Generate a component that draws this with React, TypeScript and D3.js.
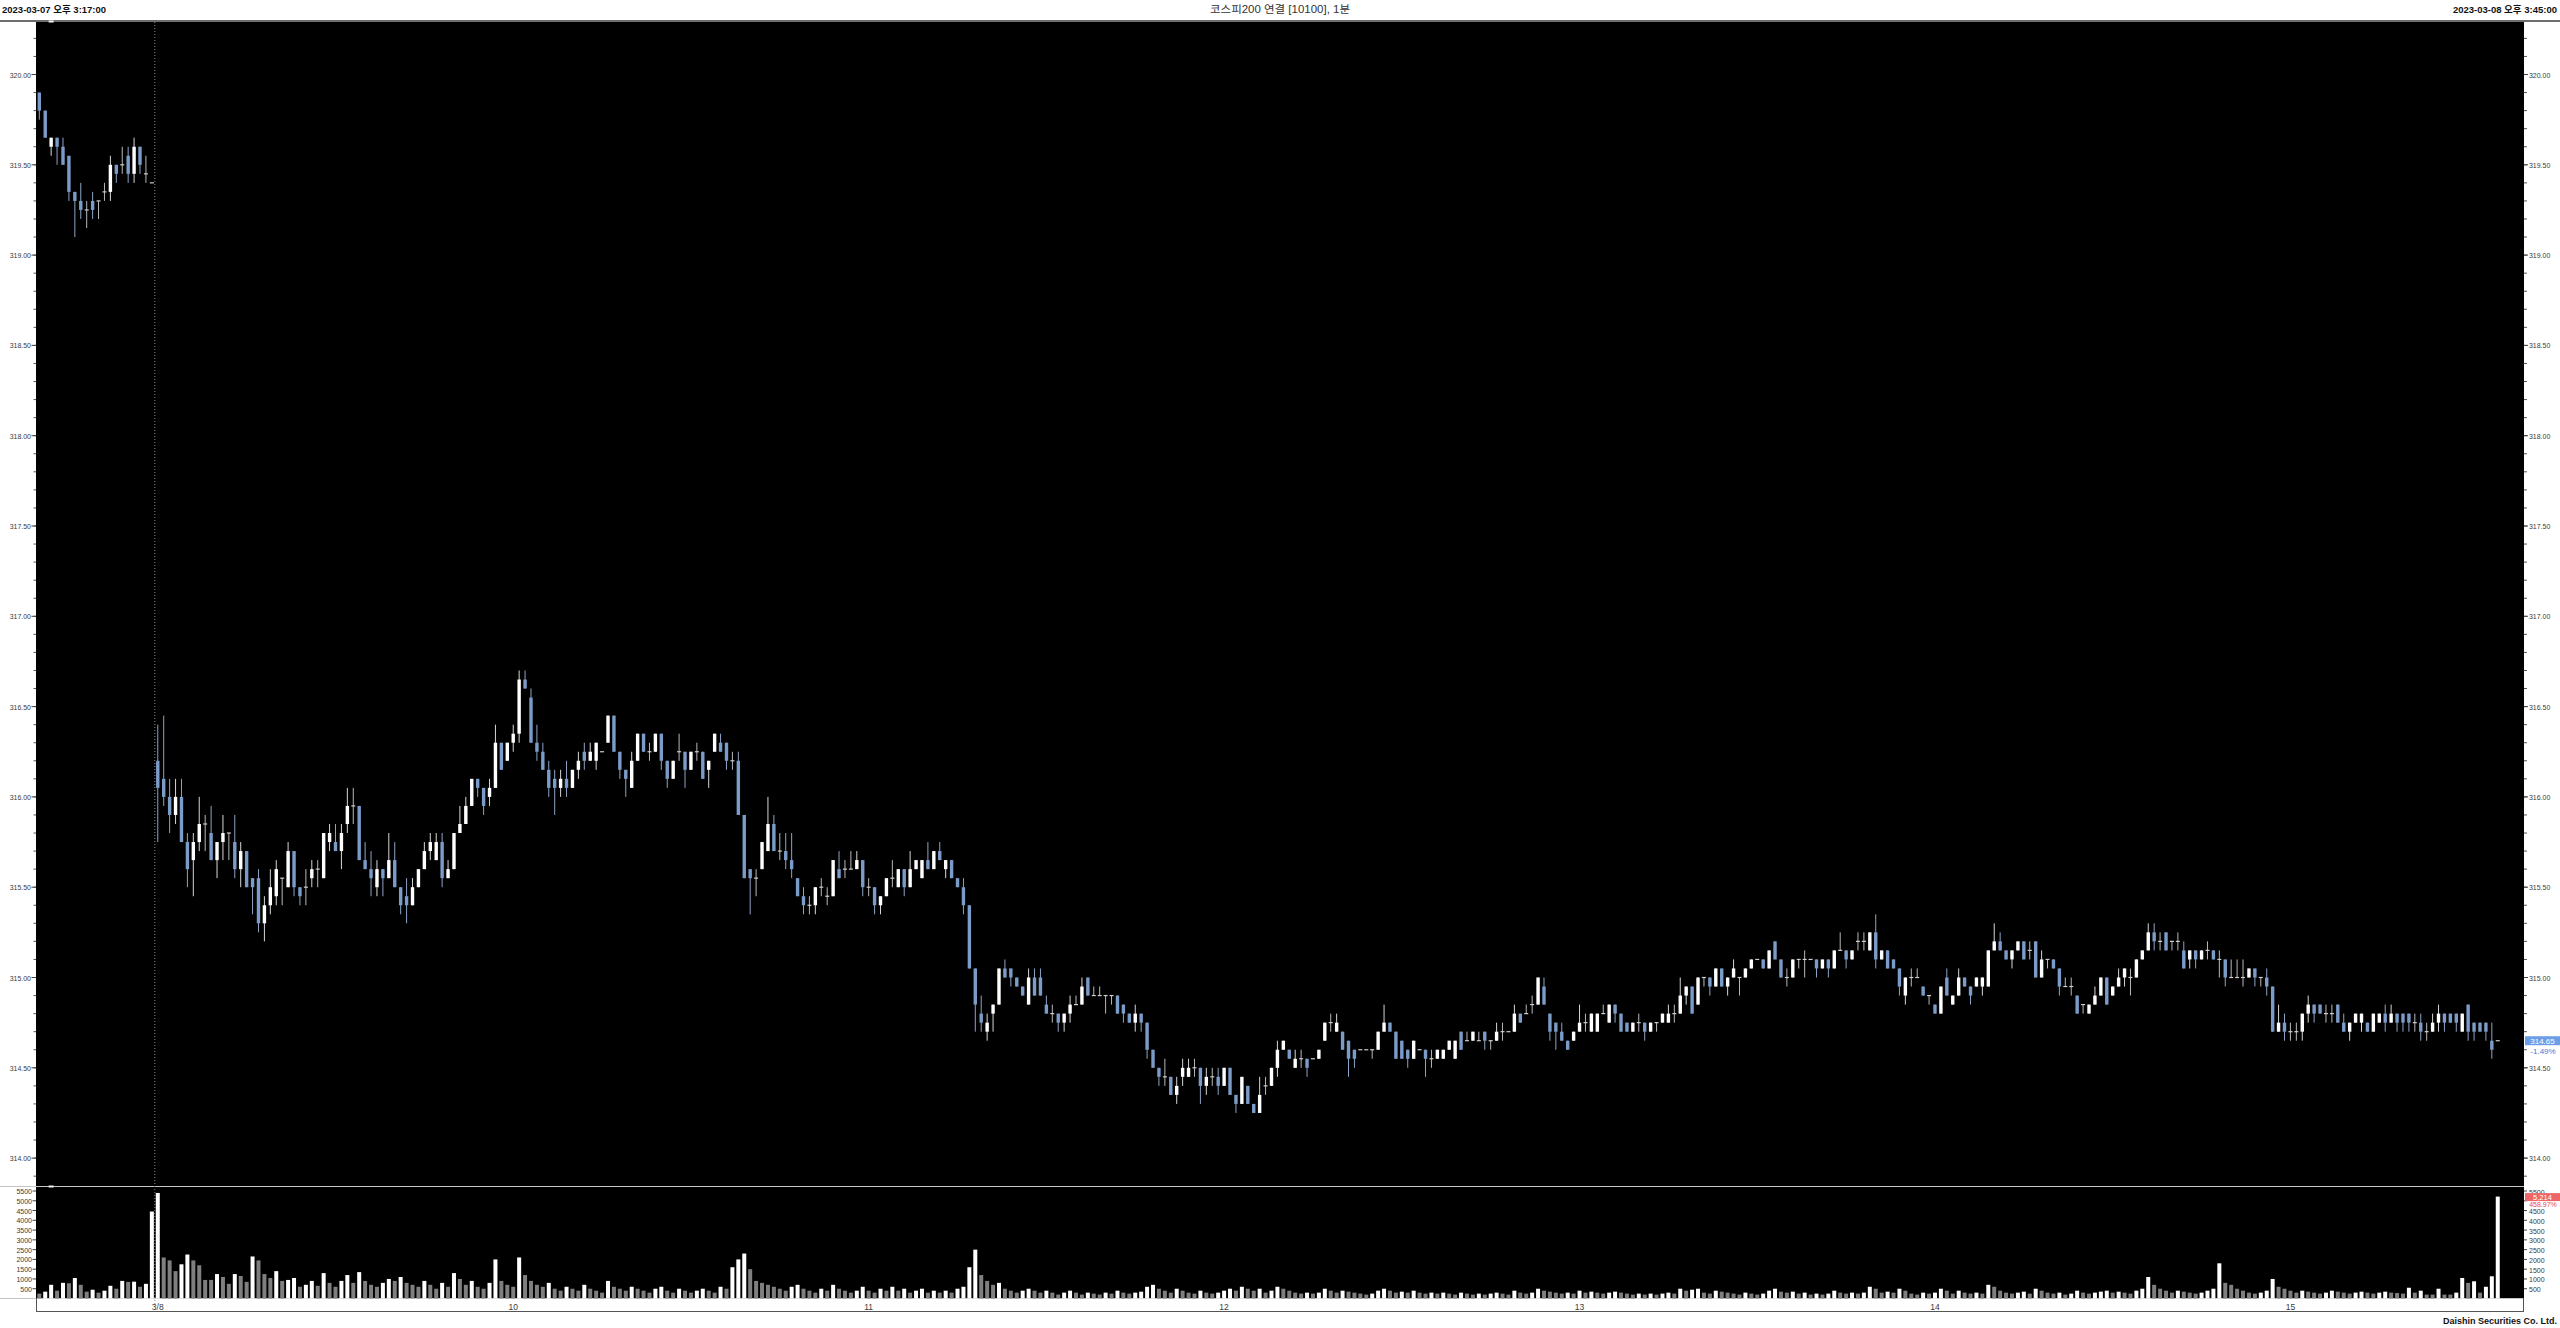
import React from "react";
import * as d3 from "d3";

// ---- candle data: 3/7 15:17–15:35 + 15:45 close (20), 3/8 09:00–15:34 + 15:45 close (396)
const opens = [
  319.90,319.80,319.60,319.65,319.60,319.55,319.35,319.30,319.25,319.30,
  319.30,319.35,319.35,319.50,319.50,319.55,319.45,319.60,319.45,319.40,
  316.20,316.10,316.00,315.90,316.00,315.75,315.65,315.75,315.85,315.80,
  315.65,315.75,315.80,315.75,315.60,315.70,315.55,315.55,315.30,315.40,
  315.45,315.55,315.50,315.70,315.50,315.50,315.55,315.60,315.55,315.75,
  315.75,315.70,315.85,315.95,315.95,315.65,315.60,315.50,315.60,315.55,
  315.65,315.50,315.45,315.40,315.50,315.60,315.70,315.65,315.75,315.55,
  315.60,315.80,315.85,315.95,316.10,316.05,316.00,316.05,316.30,316.20,
  316.30,316.35,316.65,316.55,316.30,316.25,316.15,316.10,316.05,316.10,
  316.05,316.15,316.25,316.20,316.20,316.25,316.30,316.45,316.25,316.15,
  316.05,316.20,316.35,316.25,316.25,316.35,316.20,316.10,316.25,316.25,
  316.15,316.25,316.25,316.15,316.25,316.30,316.30,316.20,316.20,315.90,
  315.60,315.55,315.60,315.70,315.85,315.70,315.70,315.65,315.55,315.45,
  315.40,315.40,315.50,315.45,315.45,315.60,315.60,315.60,315.60,315.65,
  315.50,315.50,315.40,315.45,315.55,315.50,315.60,315.50,315.60,315.55,
  315.65,315.60,315.70,315.60,315.65,315.55,315.50,315.40,315.05,314.80,
  314.70,314.80,314.85,315.05,315.05,315.00,314.95,314.85,315.00,315.00,
  314.85,314.80,314.80,314.75,314.80,314.85,314.85,315.00,314.90,314.90,
  314.90,314.90,314.90,314.85,314.80,314.75,314.80,314.75,314.60,314.50,
  314.45,314.45,314.35,314.45,314.45,314.50,314.50,314.40,314.45,314.45,
  314.40,314.50,314.35,314.30,314.40,314.30,314.25,314.40,314.40,314.50,
  314.60,314.60,314.50,314.55,314.55,314.55,314.55,314.65,314.75,314.70,
  314.70,314.65,314.60,314.60,314.60,314.60,314.60,314.70,314.75,314.70,
  314.65,314.60,314.55,314.60,314.60,314.55,314.55,314.55,314.60,314.55,
  314.70,314.65,314.65,314.65,314.70,314.65,314.65,314.70,314.70,314.70,
  314.80,314.80,314.85,314.85,314.95,314.80,314.75,314.70,314.65,314.65,
  314.70,314.75,314.70,314.70,314.80,314.75,314.85,314.80,314.75,314.70,
  314.75,314.75,314.70,314.75,314.75,314.75,314.80,314.80,314.90,314.95,
  314.85,315.00,315.00,314.95,315.05,314.95,315.00,315.00,315.00,315.05,
  315.10,315.10,315.05,315.20,315.10,315.00,315.00,315.10,315.10,315.10,
  315.10,315.05,315.10,315.05,315.15,315.15,315.10,315.20,315.20,315.15,
  315.25,315.10,315.15,315.10,315.05,314.90,315.00,315.00,314.95,314.90,
  314.85,314.80,315.00,314.85,314.90,315.00,314.95,314.95,314.95,314.95,
  315.15,315.20,315.15,315.10,315.15,315.20,315.15,315.20,315.00,315.10,
  315.10,315.05,314.95,314.95,314.90,314.85,314.80,314.85,314.90,315.00,
  314.90,314.95,315.00,315.00,315.00,315.10,315.15,315.25,315.20,315.25,
  315.20,315.20,315.15,315.10,315.15,315.10,315.15,315.15,315.10,315.10,
  315.00,315.00,315.00,315.00,315.05,315.00,315.00,314.95,314.70,314.75,
  314.70,314.70,314.70,314.80,314.85,314.85,314.80,314.80,314.85,314.75,
  314.70,314.75,314.75,314.75,314.70,314.75,314.80,314.75,314.80,314.80,
  314.80,314.75,314.75,314.70,314.70,314.75,314.80,314.80,314.80,314.70,
  314.85,314.75,314.75,314.75,314.65,314.65,
];
const highs = [
  319.90,319.80,319.65,319.65,319.65,319.55,319.35,319.40,319.30,319.35,
  319.30,319.40,319.55,319.50,319.60,319.60,319.65,319.60,319.55,319.40,
  316.40,316.45,316.10,316.10,316.10,315.80,315.80,316.00,315.90,315.95,
  315.75,315.90,315.80,315.90,315.75,315.70,315.55,315.60,315.45,315.60,
  315.65,315.55,315.75,315.70,315.50,315.60,315.65,315.65,315.80,315.85,
  315.85,315.85,316.05,316.05,315.95,315.75,315.70,315.65,315.60,315.80,
  315.75,315.50,315.55,315.55,315.60,315.75,315.80,315.80,315.80,315.65,
  315.80,315.95,316.00,316.10,316.10,316.05,316.10,316.40,316.30,316.30,
  316.40,316.70,316.70,316.60,316.40,316.30,316.20,316.15,316.15,316.20,
  316.15,316.25,316.30,316.30,316.30,316.25,316.45,316.45,316.25,316.15,
  316.25,316.35,316.35,316.30,316.35,316.35,316.20,316.20,316.35,316.25,
  316.25,316.30,316.25,316.20,316.35,316.35,316.30,316.25,316.25,315.90,
  315.60,315.60,315.75,316.00,315.90,315.80,315.80,315.80,315.55,315.50,
  315.45,315.50,315.55,315.50,315.65,315.70,315.65,315.70,315.70,315.65,
  315.55,315.50,315.45,315.55,315.65,315.60,315.60,315.70,315.65,315.65,
  315.75,315.70,315.75,315.65,315.65,315.55,315.55,315.40,315.05,314.90,
  314.80,314.85,315.05,315.10,315.05,315.00,314.95,315.05,315.05,315.05,
  314.90,314.85,314.80,314.80,314.90,314.90,315.00,315.00,314.95,314.95,
  314.90,314.90,314.90,314.85,314.80,314.85,314.80,314.75,314.60,314.50,
  314.55,314.45,314.45,314.55,314.55,314.55,314.50,314.50,314.50,314.50,
  314.50,314.50,314.35,314.45,314.40,314.30,314.45,314.45,314.50,314.65,
  314.65,314.60,314.60,314.60,314.55,314.55,314.60,314.75,314.80,314.80,
  314.70,314.65,314.60,314.60,314.60,314.60,314.70,314.85,314.75,314.70,
  314.65,314.60,314.65,314.60,314.60,314.60,314.60,314.60,314.65,314.65,
  314.70,314.70,314.70,314.70,314.70,314.65,314.75,314.75,314.70,314.85,
  314.80,314.85,314.90,315.00,315.00,314.80,314.75,314.75,314.65,314.70,
  314.85,314.80,314.80,314.80,314.85,314.85,314.85,314.80,314.75,314.75,
  314.80,314.75,314.75,314.75,314.80,314.85,314.85,315.00,314.95,314.95,
  315.00,315.00,315.00,315.05,315.05,315.00,315.10,315.00,315.05,315.10,
  315.10,315.10,315.15,315.20,315.10,315.05,315.10,315.10,315.15,315.10,
  315.10,315.10,315.10,315.15,315.25,315.15,315.15,315.25,315.25,315.25,
  315.35,315.15,315.15,315.10,315.05,315.00,315.05,315.05,314.95,314.90,
  314.85,314.95,315.05,314.90,315.05,315.00,314.95,315.00,315.00,315.15,
  315.30,315.25,315.15,315.15,315.20,315.20,315.20,315.20,315.15,315.10,
  315.10,315.05,315.00,315.00,314.90,314.85,314.85,314.95,315.00,315.00,
  314.95,315.05,315.05,315.05,315.10,315.15,315.30,315.30,315.25,315.25,
  315.20,315.25,315.20,315.15,315.15,315.15,315.20,315.15,315.15,315.10,
  315.10,315.10,315.10,315.05,315.05,315.00,315.05,314.95,314.85,314.80,
  314.75,314.75,314.80,314.90,314.85,314.85,314.85,314.85,314.85,314.80,
  314.75,314.80,314.80,314.75,314.80,314.80,314.85,314.85,314.80,314.80,
  314.80,314.80,314.80,314.75,314.80,314.85,314.80,314.80,314.80,314.80,
  314.85,314.75,314.75,314.75,314.75,314.65,
];
const lows = [
  319.75,319.65,319.55,319.50,319.50,319.30,319.10,319.20,319.15,319.20,
  319.20,319.30,319.30,319.40,319.45,319.40,319.40,319.45,319.40,319.40,
  315.75,315.95,315.80,315.85,315.75,315.50,315.45,315.70,315.70,315.65,
  315.55,315.65,315.65,315.55,315.50,315.50,315.35,315.25,315.20,315.35,
  315.40,315.40,315.50,315.45,315.40,315.40,315.50,315.50,315.55,315.70,
  315.70,315.60,315.80,315.85,315.65,315.60,315.45,315.45,315.45,315.55,
  315.50,315.35,315.30,315.40,315.50,315.60,315.65,315.65,315.50,315.55,
  315.60,315.80,315.85,315.95,316.00,315.90,315.95,316.05,316.15,316.20,
  316.25,316.30,316.60,316.30,316.20,316.15,316.00,315.90,316.00,316.00,
  316.05,316.10,316.15,316.20,316.15,316.25,316.30,316.25,316.10,316.00,
  316.05,316.20,316.25,316.20,316.25,316.15,316.05,316.10,316.20,316.05,
  316.15,316.20,316.10,316.05,316.25,316.25,316.15,316.15,315.90,315.55,
  315.35,315.45,315.60,315.70,315.70,315.65,315.60,315.55,315.45,315.35,
  315.35,315.35,315.45,315.40,315.45,315.55,315.55,315.60,315.60,315.45,
  315.45,315.35,315.35,315.45,315.50,315.50,315.45,315.50,315.60,315.55,
  315.60,315.60,315.65,315.55,315.55,315.50,315.35,315.05,314.70,314.70,
  314.65,314.70,314.85,315.00,314.95,314.95,314.90,314.85,314.90,314.90,
  314.80,314.75,314.70,314.70,314.75,314.85,314.85,314.90,314.90,314.90,
  314.80,314.85,314.80,314.75,314.75,314.70,314.70,314.55,314.50,314.40,
  314.40,314.35,314.30,314.40,314.45,314.45,314.30,314.35,314.40,314.35,
  314.40,314.35,314.25,314.30,314.30,314.25,314.25,314.35,314.40,314.45,
  314.60,314.55,314.50,314.50,314.45,314.55,314.55,314.65,314.70,314.70,
  314.60,314.45,314.50,314.60,314.60,314.55,314.60,314.70,314.70,314.55,
  314.55,314.50,314.55,314.60,314.45,314.50,314.55,314.55,314.60,314.55,
  314.60,314.65,314.65,314.65,314.60,314.60,314.65,314.65,314.70,314.70,
  314.75,314.80,314.80,314.85,314.85,314.65,314.60,314.65,314.60,314.65,
  314.70,314.70,314.70,314.70,314.80,314.75,314.75,314.70,314.70,314.70,
  314.70,314.65,314.70,314.70,314.75,314.75,314.75,314.80,314.85,314.80,
  314.85,314.95,314.90,314.95,314.95,314.90,315.00,314.90,315.00,315.05,
  315.10,315.05,315.05,315.10,315.00,314.95,315.00,315.05,315.00,315.10,
  315.00,315.05,315.00,315.05,315.15,315.05,315.10,315.15,315.15,315.15,
  315.05,315.10,315.05,315.05,314.90,314.85,314.95,315.00,314.90,314.85,
  314.80,314.80,314.90,314.85,314.90,314.95,314.85,314.95,314.90,314.95,
  315.15,315.15,315.10,315.05,315.15,315.10,315.10,315.00,315.00,315.05,
  315.05,314.90,314.95,314.90,314.80,314.80,314.80,314.85,314.90,314.85,
  314.90,314.95,314.95,314.90,315.00,315.10,315.15,315.15,315.15,315.15,
  315.15,315.15,315.05,315.05,315.05,315.10,315.10,315.10,315.00,314.95,
  315.00,315.00,314.95,315.00,314.95,314.95,314.90,314.70,314.70,314.65,
  314.65,314.65,314.65,314.75,314.75,314.80,314.75,314.75,314.75,314.70,
  314.65,314.75,314.70,314.70,314.70,314.75,314.70,314.75,314.70,314.70,
  314.70,314.70,314.65,314.65,314.70,314.70,314.70,314.75,314.70,314.70,
  314.65,314.65,314.70,314.65,314.55,314.65,
];
const closes = [
  319.80,319.65,319.65,319.60,319.50,319.35,319.30,319.25,319.25,319.25,
  319.30,319.35,319.50,319.45,319.50,319.45,319.60,319.50,319.45,319.40,
  316.05,316.00,315.90,316.00,315.75,315.60,315.75,315.85,315.85,315.65,
  315.75,315.80,315.80,315.60,315.70,315.50,315.50,315.30,315.40,315.50,
  315.60,315.55,315.70,315.50,315.45,315.50,315.60,315.60,315.80,315.80,
  315.70,315.80,315.95,315.95,315.65,315.60,315.55,315.60,315.55,315.65,
  315.50,315.40,315.40,315.50,315.60,315.70,315.75,315.75,315.55,315.60,
  315.80,315.85,315.95,316.10,316.05,315.95,316.05,316.30,316.15,316.30,
  316.35,316.65,316.60,316.30,316.25,316.15,316.05,316.05,316.10,316.05,
  316.15,316.20,316.20,316.25,316.30,316.25,316.45,316.25,316.15,316.10,
  316.20,316.35,316.25,316.25,316.35,316.20,316.10,316.20,316.25,316.15,
  316.25,316.25,316.10,316.20,316.35,316.25,316.20,316.20,315.90,315.55,
  315.55,315.55,315.75,315.85,315.70,315.70,315.65,315.60,315.45,315.40,
  315.40,315.50,315.50,315.45,315.65,315.55,315.60,315.60,315.65,315.50,
  315.50,315.40,315.45,315.55,315.55,315.60,315.50,315.60,315.65,315.65,
  315.60,315.70,315.65,315.65,315.55,315.50,315.40,315.05,314.85,314.75,
  314.75,314.85,315.05,315.00,315.00,314.95,314.90,315.00,314.90,314.90,
  314.80,314.80,314.75,314.80,314.85,314.85,314.95,314.90,314.90,314.90,
  314.90,314.90,314.80,314.80,314.75,314.80,314.75,314.60,314.50,314.45,
  314.45,314.35,314.40,314.50,314.50,314.50,314.40,314.45,314.45,314.40,
  314.50,314.35,314.30,314.45,314.30,314.25,314.35,314.40,314.50,314.60,
  314.65,314.55,314.55,314.55,314.50,314.55,314.60,314.75,314.75,314.75,
  314.60,314.55,314.55,314.60,314.60,314.60,314.70,314.75,314.70,314.55,
  314.55,314.55,314.65,314.60,314.55,314.55,314.60,314.60,314.65,314.65,
  314.60,314.65,314.70,314.65,314.65,314.65,314.70,314.70,314.70,314.80,
  314.75,314.80,314.85,315.00,314.85,314.70,314.70,314.65,314.60,314.70,
  314.75,314.75,314.80,314.80,314.80,314.85,314.80,314.70,314.70,314.75,
  314.75,314.70,314.75,314.75,314.80,314.80,314.80,314.90,314.95,314.80,
  315.00,315.00,314.95,315.05,314.95,315.00,315.05,315.00,315.05,315.10,
  315.10,315.05,315.15,315.10,315.00,315.00,315.10,315.10,315.10,315.10,
  315.05,315.10,315.05,315.15,315.15,315.10,315.15,315.20,315.20,315.25,
  315.10,315.15,315.05,315.05,314.95,315.00,315.00,315.00,314.90,314.90,
  314.80,314.95,314.90,314.90,315.00,314.95,314.90,315.00,315.00,315.15,
  315.20,315.15,315.10,315.15,315.20,315.10,315.15,315.00,315.10,315.10,
  315.05,314.95,314.95,314.95,314.80,314.85,314.85,314.90,315.00,314.85,
  314.95,315.00,315.05,315.00,315.10,315.15,315.25,315.20,315.20,315.15,
  315.20,315.20,315.05,315.15,315.10,315.15,315.15,315.10,315.10,315.00,
  315.00,315.00,315.00,315.05,315.00,315.00,314.95,314.70,314.75,314.70,
  314.70,314.70,314.80,314.85,314.80,314.80,314.80,314.80,314.75,314.70,
  314.75,314.80,314.80,314.70,314.80,314.80,314.75,314.80,314.75,314.75,
  314.75,314.75,314.70,314.70,314.75,314.80,314.75,314.75,314.75,314.80,
  314.70,314.70,314.70,314.70,314.60,314.65,
];
const volumes = [
  250,350,700,400,800,780,1050,700,350,450,
  300,400,650,500,900,850,860,600,750,4450,
  5400,2100,1950,1400,1750,2250,1950,1700,950,950,
  1250,1100,750,1250,1150,850,2150,1950,1250,1050,
  1400,900,950,1050,600,700,900,650,1300,800,
  600,900,1200,800,1350,900,700,600,800,1000,
  900,1100,800,700,600,900,700,500,800,600,
  1300,1000,700,900,600,500,800,2000,900,700,
  600,2100,1200,900,700,600,800,500,400,600,
  500,400,700,500,400,300,900,600,500,400,
  600,500,400,300,500,600,400,300,500,400,
  300,400,500,400,300,600,500,1600,2000,2300,
  1500,900,800,700,600,500,400,600,700,500,
  400,300,500,400,700,500,400,300,400,600,
  400,300,500,400,600,400,500,300,400,500,
  300,400,300,400,300,500,600,1600,2500,1200,
  900,700,800,500,400,300,400,500,400,300,
  400,300,200,300,400,300,200,300,250,200,
  300,250,400,300,250,300,350,600,700,500,
  400,300,500,400,300,250,400,300,250,300,
  400,500,400,600,500,400,500,300,400,600,
  500,400,300,250,300,250,300,500,400,300,
  400,350,300,250,200,250,400,500,400,300,
  350,300,400,300,250,300,250,300,250,200,
  300,250,200,250,200,250,300,250,200,400,
  300,250,300,500,400,350,300,250,300,250,
  400,300,350,300,250,300,350,300,250,200,
  250,200,250,200,250,300,250,500,400,450,
  500,300,250,400,350,300,250,200,300,250,
  200,250,400,500,350,300,350,250,300,200,
  250,200,250,400,300,250,300,250,300,600,
  500,300,350,300,500,400,250,200,300,250,
  300,500,400,250,400,300,250,300,250,700,
  600,400,300,250,300,350,250,500,400,300,
  250,300,200,250,400,300,250,300,350,400,
  300,350,300,250,400,500,1100,700,500,400,
  300,400,350,300,250,300,400,500,1800,800,
  700,500,400,300,250,300,400,1000,600,500,
  400,300,400,350,300,250,300,400,350,300,
  250,300,350,300,250,300,350,300,280,250,
  550,300,400,200,200,500,200,200,300,1050,
  800,880,300,600,1136,5214,
];

// ---- axis / label data
const priceTicks = [314.0,314.5,315.0,315.5,316.0,316.5,317.0,317.5,318.0,318.5,319.0,319.5,320.0];
const volumeTicks = [500,1000,1500,2000,2500,3000,3500,4000,4500,5000,5500];
const timeLabels = ["3/8","10","11","12","13","14","15"];
const timeLabelIndex = [20,80,140,200,260,320,380];
const dayBreakIndex = 20;
const headerLeft = "2023-03-07 오후 3:17:00";
const headerTitle = "코스피200 연결 [10100], 1분";
const headerRight = "2023-03-08 오후 3:45:00";
const footer = "Daishin Securities Co. Ltd.";
const lastPriceText = "314.65";
const lastChangeText = "-1.49%";
const lastVolumeText = "5,214";
const lastVolumeRatioText = "458.97%";

const BLUE = "#7b9bc8";
const AXIS_TXT = "#3a3a3a";
const FONT = "'Liberation Sans', Arial, sans-serif";
const KFONT = "'Liberation Sans', 'Noto Sans CJK KR', sans-serif";

function numLen(s: string) {
  let w = 0;
  for (const ch of s) w += /[0-9]/.test(ch) ? 3.9 : 1.8;
  return w;
}

export default function App() {
  const W = 2560, H = 1328;
  const n = closes.length;
  const plotL = 36, plotR = 2524, plotT = 22, priceB = 1186, volB = 1298;
  const x = d3.scaleLinear().domain([0, n - 1]).range([39.3, 39.3 + (n - 1) * 5.924]);
  const y = d3.scaleLinear().domain([314, 320]).range([1158.1, 74.5]);
  const yv = d3.scaleLinear().domain([0, 5500]).range([1298.5, 1191]);
  const minorPrice = d3.range(3139, 3203).map((k) => k / 10);
  const sepX = (x(dayBreakIndex - 1) + x(dayBreakIndex)) / 2;
  const lastY = y(closes[n - 1]);
  const lastVY = yv(volumes[n - 1]) + 1;
  // right-axis volume labels hidden behind the last-volume tag
  const hiddenRight = (v: number) => Math.abs(yv(v) - lastVY) < 6;

  return (
    <div style={{ position: "absolute", left: 0, top: 0 }}>
      <svg width={W} height={H} style={{ display: "block", background: "#ffffff" }}>
        {/* header */}
        <text x={2} y={13} fontFamily={KFONT} fontWeight="bold" fontSize={9.5} fill="#111">{headerLeft}</text>
        <text x={1280} y={13} fontFamily={KFONT} fontSize={10.5} fill="#333" textAnchor="middle"
          textLength={140} lengthAdjust="spacingAndGlyphs">{headerTitle}</text>
        <text x={2557} y={13} fontFamily={KFONT} fontWeight="bold" fontSize={9.5} fill="#111"
          textAnchor="end">{headerRight}</text>
        <rect x={0} y={20} width={W} height={2} fill="#6e6e6e" />

        {/* panels */}
        <rect x={plotL} y={plotT} width={plotR - plotL} height={priceB - plotT} fill="#000" />
        <rect x={plotL} y={priceB + 1} width={plotR - plotL} height={volB - priceB - 1} fill="#000" />
        <line x1={0} x2={plotR} y1={priceB + 0.5} y2={priceB + 0.5} stroke="#c4c4c4" />
        <line x1={0} x2={plotR} y1={volB + 0.5} y2={volB + 0.5} stroke="#c4c4c4" />
        <line x1={plotL + 0.5} x2={plotL + 0.5} y1={volB} y2={1312} stroke="#555" />
        <line x1={plotR - 0.5} x2={plotR - 0.5} y1={volB} y2={1312} stroke="#555" />
        <line x1={plotL} x2={plotR} y1={1311.5} y2={1311.5} stroke="#555" />

        {/* day separator */}
        <line x1={sepX} x2={sepX} y1={plotT} y2={1311} stroke="#8a8a8a" strokeDasharray="1,2" />

        {/* price axes */}
        {minorPrice.map((p) => (
          <g key={"mp" + p}>
            <line x1={33.5} x2={plotL} y1={y(p)} y2={y(p)} stroke="#555" />
            <line x1={plotR} x2={plotR + 3} y1={y(p)} y2={y(p)} stroke="#555" />
          </g>
        ))}
        {priceTicks.map((p) => {
          const s = p.toFixed(2);
          return (
            <g key={"pt" + p}>
              <line x1={31.5} x2={plotL} y1={y(p)} y2={y(p)} stroke="#444" />
              <line x1={plotR} x2={plotR + 4} y1={y(p)} y2={y(p)} stroke="#444" />
              <text x={31} y={y(p) + 3} fontFamily={FONT} fontSize={8} fill={AXIS_TXT} textAnchor="end"
                textLength={numLen(s)} lengthAdjust="spacingAndGlyphs">{s}</text>
              <text x={plotR + 5} y={y(p) + 3} fontFamily={FONT} fontSize={8} fill={AXIS_TXT}
                textLength={numLen(s)} lengthAdjust="spacingAndGlyphs">{s}</text>
            </g>
          );
        })}

        {/* volume axes */}
        {volumeTicks.map((v) => {
          const s = String(v);
          return (
            <g key={"vt" + v}>
              <line x1={32.5} x2={plotL} y1={yv(v)} y2={yv(v)} stroke="#444" />
              <line x1={plotR} x2={plotR + 3} y1={yv(v)} y2={yv(v)} stroke="#444" />
              <text x={32} y={yv(v) + 3} fontFamily={FONT} fontSize={8} fill={AXIS_TXT} textAnchor="end"
                textLength={numLen(s)} lengthAdjust="spacingAndGlyphs">{s}</text>
              {!hiddenRight(v) && (
                <text x={plotR + 5} y={yv(v) + 3.5} fontFamily={FONT} fontSize={8} fill={AXIS_TXT}
                  textLength={numLen(s)} lengthAdjust="spacingAndGlyphs">{s}</text>
              )}
            </g>
          );
        })}

        {/* time labels */}
        {timeLabels.map((t, k) => (
          <text key={"tl" + t} x={x(timeLabelIndex[k])} y={1310} fontFamily={FONT} fontSize={8.5}
            fill={AXIS_TXT} textAnchor="middle">{t}</text>
        ))}

        {/* candles */}
        {closes.map((c, i) => {
          const o = opens[i];
          const cx = x(i);
          const up = c > o, down = c < o;
          const top = y(Math.max(o, c)), bot = y(Math.min(o, c));
          const body = up ? "#ffffff" : down ? BLUE : "#cfcfcf";
          const wick = up ? "#d6d6d6" : down ? "#8ea4c6" : "#b8b8b8";
          return (
            <g key={"c" + i}>
              <line x1={cx} x2={cx} y1={y(highs[i])} y2={y(lows[i])} stroke={wick} strokeWidth={1} />
              {up || down ? (
                <rect x={cx - 1.7} y={top} width={3.4} height={Math.max(1, bot - top)} fill={body} />
              ) : (
                <line x1={cx - 2} x2={cx + 2} y1={top} y2={top} stroke={body} strokeWidth={1.2} />
              )}
            </g>
          );
        })}

        {/* volume bars */}
        {volumes.map((v, i) => {
          const col = i > 0 && v > volumes[i - 1] ? "#ffffff" : "#7f7f7f";
          return (
            <rect key={"v" + i} x={x(i) - 2} y={yv(v)} width={4} height={yv(0) - yv(v)} fill={col} />
          );
        })}

        {/* panel top markers */}
        <rect x={x(2) - 2.5} y={20.5} width={5} height={2} fill="#f2f2f2" />
        <rect x={x(2) - 2.5} y={priceB - 0.5} width={5} height={2} fill="#f2f2f2" />

        {/* last price tag */}
        <rect x={2525} y={lastY - 4.5} width={35} height={9} fill="#6c9ee8" />
        <text x={2542.5} y={lastY + 3} fontFamily={FONT} fontSize={8} fill="#fff" textAnchor="middle">{lastPriceText}</text>
        <text x={2543} y={lastY + 13} fontFamily={FONT} fontSize={8} fill="#3f78d8" textAnchor="middle">{lastChangeText}</text>

        {/* last volume tag */}
        <rect x={2525} y={lastVY - 4.5} width={35} height={8} fill="#ef6666" />
        <text x={2542.5} y={lastVY + 2.5} fontFamily={FONT} fontSize={7.5} fill="#fff" textAnchor="middle">{lastVolumeText}</text>
        <text x={2543} y={lastVY + 9.5} fontFamily={FONT} fontSize={7} fill="#e84a4a" textAnchor="middle">{lastVolumeRatioText}</text>

        {/* footer */}
        <text x={2557} y={1324} fontFamily={FONT} fontWeight="bold" fontSize={9} fill="#111"
          textAnchor="end">{footer}</text>
      </svg>
    </div>
  );
}
